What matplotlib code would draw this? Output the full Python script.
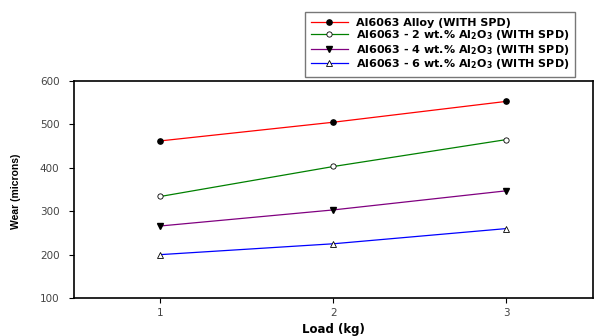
import numpy as np
import matplotlib
matplotlib.use("Agg")
import matplotlib.pyplot as plt

plt.rcParams['font.family'] = ['DejaVu Sans']
plt.rcParams['mathtext.default'] = 'bf'

load = [1, 2, 3]
wear_alloy = [462, 505, 553]
wear_2 = [334, 403, 465]
wear_4 = [266, 303, 347]
wear_6 = [200, 225, 260]

labels = ['Al6063 Alloy (WITH SPD)',
          r'Al6063 - 2 wt.% Al$_2$O$_3$ (WITH SPD)',
          r'Al6063 - 4 wt.% Al$_2$O$_3$ (WITH SPD)',
          r'Al6063 - 6 wt.% Al$_2$O$_3$ (WITH SPD)']

fig = plt.figure(figsize=(5.95, 3.36), dpi=100)
ax = fig.add_axes([0.1244, 0.113, 0.872, 0.646])

ax.plot(load, wear_alloy, color='red', lw=0.9, marker='o', ms=3.8,
        mfc='black', mec='black', label=labels[0])
ax.plot(load, wear_2, color='green', lw=0.9, marker='o', ms=3.8,
        mfc='white', mec='black', mew=0.6, label=labels[1])
ax.plot(load, wear_4, color='purple', lw=0.9, marker='v', ms=4.2,
        mfc='black', mec='black', label=labels[2])
ax.plot(load, wear_6, color='blue', lw=0.9, marker='^', ms=4.5,
        mfc='white', mec='black', mew=0.6, label=labels[3])

ax.set_xlim(0.5, 3.5)
ax.set_ylim(100, 600)
ax.set_xticks([1, 2, 3])
ax.set_yticks([100, 200, 300, 400, 500, 600])
ax.tick_params(direction='out', length=3.5, width=0.8, labelsize=7.5,
               labelcolor='#444444')
ax.tick_params(axis='y', pad=7)
ax.tick_params(axis='x', pad=3.5)
for s in ax.spines.values():
    s.set_linewidth(1.2)

ax.set_xlabel('Load (kg)', fontsize=8.5, fontweight='bold', va='center')
ax.xaxis.set_label_coords((333 - 74) / 519, -(328 - 297) / 217)
ax.set_ylabel('Wear (microns)', fontsize=7.5, fontweight='bold',
              family='Liberation Sans', va='center')
ax.yaxis.set_label_coords(-(74 - 16) / 519, (297 - 190) / 217)

leg = fig.legend(loc='upper left', bbox_to_anchor=(305 / 595, 1 - 12 / 336),
                 frameon=True, fancybox=False,
                 handlelength=3.3, handletextpad=0.7, labelspacing=0.02,
                 borderpad=0.55, borderaxespad=0,
                 prop={'weight': 'bold', 'size': 8})
leg.get_frame().set_edgecolor('#555555')
leg.get_frame().set_linewidth(1.0)

fig.savefig('out.png', dpi=100)
